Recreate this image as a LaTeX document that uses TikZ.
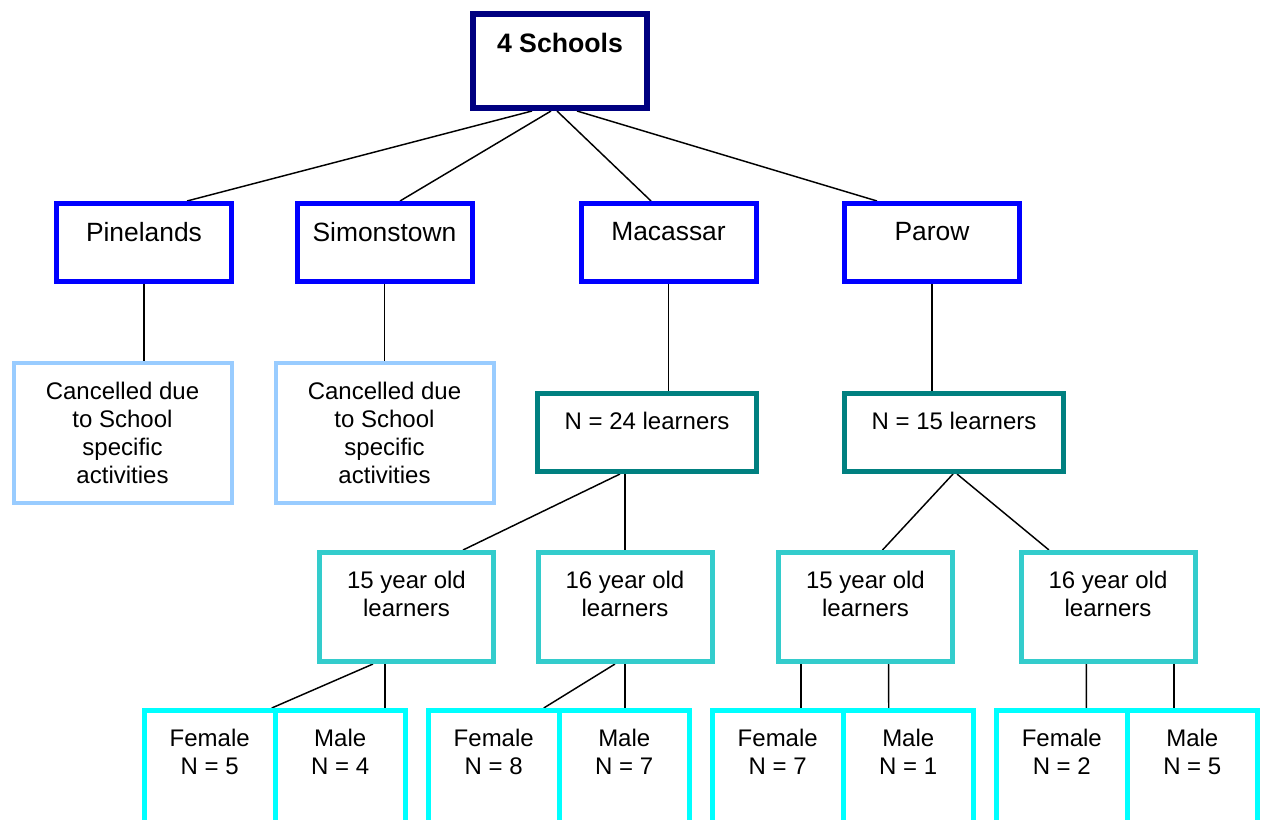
\documentclass[tikz,border=0pt]{standalone}
\usepackage{fontspec}
\setmainfont{Liberation Sans}
\usetikzlibrary{calc,backgrounds}
\definecolor{cnavy}{HTML}{000080}
\definecolor{cblue}{HTML}{0000FF}
\definecolor{clight}{HTML}{99CCFF}
\definecolor{cteal}{HTML}{008080}
\definecolor{cturq}{HTML}{33CCCC}
\definecolor{ccyan}{HTML}{00FFFF}
\begin{document}
\begin{tikzpicture}[x=0.75pt,y=-0.75pt,
  bx/.style={draw,fill=white,rectangle,inner sep=0pt},
  sz/.style 2 args={minimum width=#1*0.75pt,minimum height=#2*0.75pt},
  lvltop/.style={bx,draw=cnavy,line width=4.5pt},
  school/.style={bx,draw=cblue,line width=3.75pt},
  canc/.style={bx,draw=clight,line width=3pt},
  grp/.style={bx,draw=cteal,line width=3.75pt},
  age/.style={bx,draw=cturq,line width=3.75pt},
  sex/.style={bx,draw=ccyan,line width=3.75pt},
  txt/.style={anchor=north,inner sep=0pt,align=center,font=\fontsize{18}{21}\selectfont},
  stxt/.style={txt,font=\fontsize{19.8}{23}\selectfont},
  btxt/.style={txt,font=\fontsize{20}{24}\selectfont\bfseries},
  link/.style={draw=black,line width=1.1pt}]
\useasboundingbox (0,0) rectangle (1266,819);
\clip (0,0) rectangle (1266,819);

% boxes
\node[lvltop,sz={174}{94}] (top) at (560,61) {};
\node[school,sz={175}{78}] (pin) at (144,242.5) {};
\node[school,sz={175}{78}] (sim) at (384.5,242.5) {};
\node[school,sz={175}{78}] (mac) at (668.5,242.5) {};
\node[school,sz={175}{78}] (par) at (932,242.5) {};
\node[canc,sz={218}{140}] (can1) at (122.5,433) {};
\node[canc,sz={218}{140}] (can2) at (384.5,433) {};
\node[grp,sz={219}{78}] (n24) at (647,432.5) {};
\node[grp,sz={219}{78}] (n15) at (954,432.5) {};
\node[age,sz={174}{109}] (m15) at (406.5,607) {};
\node[age,sz={174}{109}] (m16) at (625,607) {};
\node[age,sz={174}{109}] (p15) at (865.5,607) {};
\node[age,sz={174}{109}] (p16) at (1108,607) {};
\node[sex,sz={130.5}{119.5}] (f5) at (209.75,770.25) {};
\node[sex,sz={130.5}{119.5}] (m4) at (340.25,770.25) {};
\node[sex,sz={130.5}{119.5}] (f8) at (493.75,770.25) {};
\node[sex,sz={130.5}{119.5}] (m7) at (624.25,770.25) {};
\node[sex,sz={130.5}{119.5}] (f7) at (777.75,770.25) {};
\node[sex,sz={130.5}{119.5}] (m1) at (908.25,770.25) {};
\node[sex,sz={130.5}{119.5}] (f2) at (1061.75,770.25) {};
\node[sex,sz={130.5}{119.5}] (m5) at (1192.25,770.25) {};

% texts
\node[btxt] (ttop) at ($(top.north)+(0,22)$) {4 Schools};
\node[stxt] (tpin) at ($(pin.north)+(0,21)$) {Pinelands};
\node[stxt] (tsim) at ($(sim.north)+(0,21)$) {Simonstown};
\node[stxt] (tmac) at ($(mac.north)+(0,21)$) {Macassar};
\node[stxt] (tpar) at ($(par.north)+(0,21)$) {Parow};
\node[txt] (tcan1) at ($(can1.north)+(0,20.5)$) {Cancelled due\\to School\\specific\\activities};
\node[txt] (tcan2) at ($(can2.north)+(0,20.5)$) {Cancelled due\\to School\\specific\\activities};
\node[txt] (tn24) at ($(n24.north)+(0,21)$) {N = 24 learners};
\node[txt] (tn15) at ($(n15.north)+(0,21)$) {N = 15 learners};
\node[txt] (tm15) at ($(m15.north)+(0,20.5)$) {15 year old\\learners};
\node[txt] (tm16) at ($(m16.north)+(0,20.5)$) {16 year old\\learners};
\node[txt] (tp15) at ($(p15.north)+(0,20.5)$) {15 year old\\learners};
\node[txt] (tp16) at ($(p16.north)+(0,20.5)$) {16 year old\\learners};
\node[txt] (tf5) at ($(f5.north)+(0,20.5)$) {Female\\N = 5};
\node[txt] (tm4) at ($(m4.north)+(0,20.5)$) {Male\\N = 4};
\node[txt] (tf8) at ($(f8.north)+(0,20.5)$) {Female\\N = 8};
\node[txt] (tm7) at ($(m7.north)+(0,20.5)$) {Male\\N = 7};
\node[txt] (tf7) at ($(f7.north)+(0,20.5)$) {Female\\N = 7};
\node[txt] (tm1) at ($(m1.north)+(0,20.5)$) {Male\\N = 1};
\node[txt] (tf2) at ($(f2.north)+(0,20.5)$) {Female\\N = 2};
\node[txt] (tm5) at ($(m5.north)+(0,20.5)$) {Male\\N = 5};

% connectors
\begin{scope}[on background layer]
\path[link] ($(top.south)+(-28,0)$) -- ($(pin.north)+(43,0)$);
\path[link] ($(top.south)+(-9,0)$) -- ($(sim.north)+(15.5,0)$);
\path[link] ($(top.south)+(-3,0)$) -- ($(mac.north)+(-17.5,0)$);
\path[link] ($(top.south)+(17,0)$) -- ($(par.north)+(-55,0)$);
\path[link] (pin.south) -- (pin.south |- can1.north);
\path[link] (sim.south) -- (sim.south |- can2.north);
\path[link] (mac.south) -- (mac.south |- n24.north);
\path[link] (par.south) -- (par.south |- n15.north);
\path[link] ($(n24.south)+(-27,0)$) -- ($(m15.north)+(56.5,0)$);
\path[link] (m16.north |- n24.south) -- (m16.north);
\path[link] ($(n15.south)+(-1,0)$) -- ($(p15.north)+(17,0)$);
\path[link] ($(n15.south)+(3,0)$) -- ($(p16.north)+(-59,0)$);
\path[link] ($(m15.south)+(-33.5,0)$) -- ($(f5.north)+(62,0)$);
\path[link] ($(m15.south)+(-21.5,0)$) -- ($(m4.north)+(44.75,0)$);
\path[link] ($(m16.south)+(-10,0)$) -- ($(f8.north)+(50,0)$);
\path[link] (m16.south) -- ($(m7.north)+(0.75,0)$);
\path[link] ($(p15.south)+(-64.5,0)$) -- ($(f7.north)+(23.25,0)$);
\path[link] ($(p15.south)+(23,0)$) -- ($(m1.north)+(-19.5,0)$);
\path[link] ($(p16.south)+(-21.6,0)$) -- ($(f2.north)+(24.6,0)$);
\path[link] ($(p16.south)+(66,0)$) -- ($(m5.north)+(-18.25,0)$);
\end{scope}
\end{tikzpicture}
\end{document}
